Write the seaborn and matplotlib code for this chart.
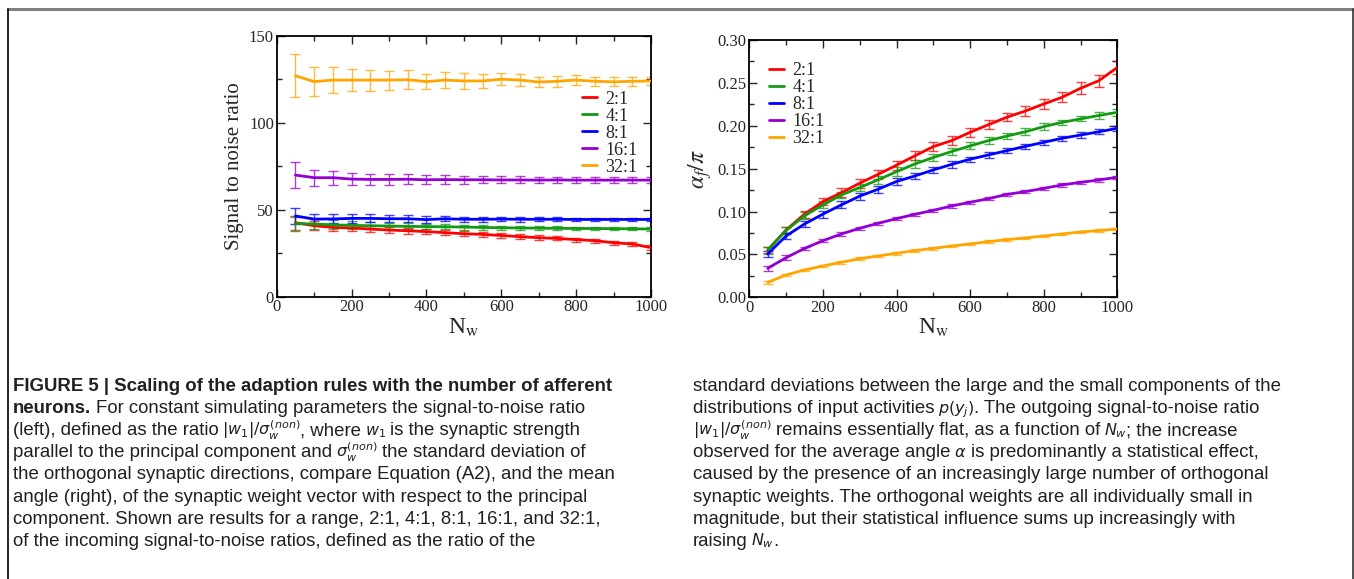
import re
import numpy as np
import pandas as pd
import matplotlib
matplotlib.use('Agg')
import matplotlib.pyplot as plt
from matplotlib.lines import Line2D
from matplotlib.ticker import MultipleLocator, FormatStrFormatter
import seaborn as sns

# values
n_w = [50, 100, 150, 200, 250, 300, 350, 400, 450, 500,
       550, 600, 650, 700, 750, 800, 850, 900, 950, 1000]
ratios = ['2:1', '4:1', '8:1', '16:1', '32:1']

# left panel: signal to noise ratio
snr_2 = [42.5, 40.8, 39.8, 39.5, 38.9, 38.3, 37.9, 37.4, 36.8, 36.2,
         35.8, 35.2, 34.5, 33.9, 33.5, 32.8, 32.2, 31.0, 30.3, 28.2]
snr_4 = [42.0, 41.8, 41.3, 41.0, 40.8, 40.6, 40.4, 40.3, 40.2, 40.0,
         39.8, 39.6, 39.5, 39.4, 39.3, 39.2, 39.2, 39.1, 39.0, 38.9]
snr_8 = [46.4, 44.6, 44.7, 45.0, 45.0, 44.8, 44.8, 44.3, 44.8, 44.5,
         44.5, 44.6, 44.5, 44.5, 44.5, 44.4, 44.4, 44.4, 44.4, 44.4]
snr_16 = [69.9, 68.4, 68.4, 67.6, 67.4, 67.4, 67.5, 67.2, 67.3, 67.2,
          67.2, 67.1, 67.1, 67.0, 67.1, 67.0, 67.0, 67.0, 67.0, 67.0]
snr_32 = [127.0, 123.6, 124.5, 124.5, 124.5, 124.5, 124.7, 123.6, 124.5, 124.0,
          124.0, 125.0, 124.5, 123.4, 123.8, 124.5, 123.8, 123.5, 123.8, 124.0]

snr_err_2 = [4.0, 2.5, 2.2, 2.0, 1.8, 1.7, 1.6, 1.5, 1.5, 1.4,
             1.4, 1.3, 1.3, 1.3, 1.2, 1.2, 1.2, 1.2, 1.2, 1.5]
snr_err_4 = [4.0, 3.0, 2.5, 2.3, 2.0, 1.8, 1.7, 1.6, 1.5, 1.4,
             1.3, 1.2, 1.2, 1.1, 1.1, 1.0, 1.0, 1.0, 0.9, 0.9]
snr_err_8 = [4.8, 3.0, 2.6, 2.5, 2.3, 2.0, 2.0, 1.8, 1.5, 1.5,
             1.4, 1.3, 1.3, 1.2, 1.2, 1.1, 1.1, 1.0, 1.0, 1.0]
snr_err_16 = [7.4, 4.5, 4.0, 3.5, 3.2, 3.0, 2.8, 2.5, 2.5, 2.2,
              2.1, 2.0, 2.0, 1.9, 1.8, 1.7, 1.7, 1.6, 1.6, 1.6]
snr_err_32 = [12.5, 8.4, 7.6, 6.5, 6.0, 5.5, 5.5, 4.3, 4.5, 4.5,
              4.0, 3.5, 3.5, 3.0, 3.0, 3.0, 2.7, 2.5, 2.5, 2.5]

# right panel: mean angle alpha_f / pi
ang_2 = [0.0552, 0.0785, 0.0970, 0.1115, 0.1220, 0.1330, 0.1434, 0.1540, 0.1650, 0.1757,
         0.1827, 0.1924, 0.2013, 0.2100, 0.2172, 0.2254, 0.2332, 0.2437, 0.2526, 0.2680]
ang_4 = [0.0550, 0.0780, 0.0950, 0.1077, 0.1193, 0.1280, 0.1370, 0.1465, 0.1555, 0.1630,
         0.1700, 0.1765, 0.1827, 0.1880, 0.1930, 0.1990, 0.2040, 0.2080, 0.2120, 0.2157]
ang_8 = [0.0505, 0.0715, 0.0855, 0.0970, 0.1077, 0.1180, 0.1260, 0.1350, 0.1415, 0.1485,
         0.1550, 0.1610, 0.1660, 0.1710, 0.1760, 0.1807, 0.1854, 0.1892, 0.1930, 0.1970]
ang_16 = [0.0338, 0.0462, 0.0570, 0.0660, 0.0738, 0.0805, 0.0863, 0.0917, 0.0968, 0.1014,
          0.1065, 0.1108, 0.1150, 0.1200, 0.1232, 0.1270, 0.1310, 0.1340, 0.1368, 0.1400]
ang_32 = [0.0175, 0.0260, 0.0319, 0.0365, 0.0408, 0.0450, 0.0482, 0.0513, 0.0544, 0.0571,
          0.0598, 0.0622, 0.0649, 0.0672, 0.0692, 0.0715, 0.0738, 0.0762, 0.0777, 0.0797]

ang_err_2 = [0.004, 0.004, 0.004, 0.004, 0.005, 0.005, 0.005, 0.005, 0.005, 0.005,
             0.005, 0.005, 0.005, 0.005, 0.006, 0.006, 0.006, 0.007, 0.007, 0.008]
ang_err_4 = [0.004, 0.004, 0.004, 0.004, 0.004, 0.004, 0.005, 0.005, 0.005, 0.004,
             0.004, 0.004, 0.004, 0.004, 0.004, 0.004, 0.003, 0.003, 0.004, 0.004]
ang_err_8 = [0.004, 0.004, 0.004, 0.004, 0.004, 0.004, 0.004, 0.004, 0.003, 0.003,
             0.004, 0.003, 0.003, 0.003, 0.003, 0.003, 0.003, 0.003, 0.003, 0.003]
ang_err_16 = [0.003, 0.003, 0.002, 0.002, 0.002, 0.002, 0.002, 0.002, 0.002, 0.002,
              0.002, 0.002, 0.002, 0.002, 0.002, 0.002, 0.002, 0.002, 0.002, 0.002]
ang_err_32 = [0.002, 0.0015, 0.0015, 0.0015, 0.0015, 0.0015, 0.0015, 0.0015, 0.0015, 0.0015,
              0.0015, 0.0015, 0.0015, 0.0015, 0.0015, 0.0015, 0.0015, 0.0015, 0.0015, 0.0015]

colors = ['#ff0000', '#139a13', '#0000ff', '#9400d3', '#ffa500']

# long tables for seaborn
snr_df = pd.DataFrame({
    'N_w': n_w * 5,
    'ratio': np.repeat(ratios, len(n_w)),
    'value': snr_2 + snr_4 + snr_8 + snr_16 + snr_32,
    'err': snr_err_2 + snr_err_4 + snr_err_8 + snr_err_16 + snr_err_32,
})
ang_df = pd.DataFrame({
    'N_w': n_w * 5,
    'ratio': np.repeat(ratios, len(n_w)),
    'value': ang_2 + ang_4 + ang_8 + ang_16 + ang_32,
    'err': ang_err_2 + ang_err_4 + ang_err_8 + ang_err_16 + ang_err_32,
})

sns.set_style('ticks')
plt.rcParams['font.family'] = ['Liberation Serif', 'DejaVu Serif']

fig = plt.figure(figsize=(13.54, 5.79), dpi=100)
W, H = 1354, 579


def px_axes(l, r, t, b):
    return fig.add_axes([l / W, 1 - b / H, (r - l) / W, (b - t) / H])


ax1 = px_axes(276.7, 651, 35.7, 296.7)
ax2 = px_axes(749.3, 1117.3, 40, 297.3)

palette = dict(zip(ratios, colors))


def draw_panel(ax, df):
    for lab in ratios:
        sub = df[df['ratio'] == lab]
        ax.errorbar(sub['N_w'], sub['value'], yerr=sub['err'], fmt='none',
                    ecolor=palette[lab], elinewidth=1.0, capsize=3.5,
                    capthick=1.0, alpha=0.75, zorder=2)
    sns.lineplot(data=df, x='N_w', y='value', hue='ratio', palette=palette,
                 hue_order=ratios, linewidth=2.0, legend=False, ax=ax,
                 zorder=3)
    ax.set_xlim(0, 1000)
    ax.xaxis.set_major_locator(MultipleLocator(200))
    ax.xaxis.set_minor_locator(MultipleLocator(100))
    ax.tick_params(which='both', direction='in', top=True, right=True,
                   labelsize=12, pad=2, width=1.0)
    ax.tick_params(which='major', length=6)
    ax.tick_params(which='minor', length=3.5)
    for sp in ax.spines.values():
        sp.set_linewidth(1.3)
        sp.set_color('black')
    ax.set_xlabel(r'N$_{\mathrm{w}}$', fontsize=17, math_fontfamily='stix')
    ax.xaxis.set_label_coords(0.5, -0.075)
    handles = [Line2D([], [], color=palette[l], lw=2) for l in ratios]
    return handles


h1 = draw_panel(ax1, snr_df)
ax1.set_ylim(0, 150)
ax1.yaxis.set_major_locator(MultipleLocator(50))
ax1.yaxis.set_minor_locator(MultipleLocator(25))
ax1.set_ylabel('Signal to noise ratio', fontsize=15)
ax1.yaxis.set_label_coords(-0.088, 0.5)
ax1.legend(h1, ratios, loc='upper left', bbox_to_anchor=(0.8157, 0.79),
           frameon=False, fontsize=13, handlelength=0.85, handletextpad=0.45,
           labelspacing=0.0, borderpad=0, borderaxespad=0)

h2 = draw_panel(ax2, ang_df)
ax2.set_ylim(0, 0.30)
ax2.yaxis.set_major_locator(MultipleLocator(0.05))
ax2.yaxis.set_minor_locator(MultipleLocator(0.025))
ax2.yaxis.set_major_formatter(FormatStrFormatter('%.2f'))
ax2.set_ylabel(r'$\alpha_f/\pi$', fontsize=17, math_fontfamily='stix')
ax2.yaxis.set_label_coords(-0.095, 0.5)
ax2.legend(h2, ratios, loc='upper left', bbox_to_anchor=(0.0535, 0.915),
           frameon=False, fontsize=13, handlelength=0.85, handletextpad=0.45,
           labelspacing=0.0, borderpad=0, borderaxespad=0)

# page frame
fig.add_artist(Line2D([8 / W, 1], [1 - 8.5 / H, 1 - 8.5 / H],
                      color='#808080', lw=2.2, transform=fig.transFigure))
fig.add_artist(Line2D([8 / W, 8 / W], [0, 1 - 8.5 / H],
                      color='black', lw=1.2, transform=fig.transFigure))
fig.add_artist(Line2D([1352.5 / W, 1352.5 / W], [0, 1 - 8.5 / H],
                      color='#333333', lw=1.2, transform=fig.transFigure))

# caption
cap_font = ['Liberation Sans', 'DejaVu Sans']
cap_size = 13.4
math_size = 11.5
cap_color = '#231f20'
baselines = [391 + 22.1 * k for k in range(8)]

left_lines = [
    '**FIGURE 5 | Scaling of the adaption rules with the number of afferent',
    '**neurons.** For constant simulating parameters the signal-to-noise ratio',
    r'(left), defined as the ratio $|w_1|/\sigma_w^{(non)}$, where $w_1$ is the synaptic strength',
    r'parallel to the principal component and $\sigma_w^{(non)}$ the standard deviation of',
    'the orthogonal synaptic directions, compare Equation (A2), and the mean',
    'angle (right), of the synaptic weight vector with respect to the principal',
    'component. Shown are results for a range, 2:1, 4:1, 8:1, 16:1, and 32:1,',
    'of the incoming signal-to-noise ratios, defined as the ratio of the',
]
right_lines = [
    'standard deviations between the large and the small components of the',
    r'distributions of input activities $p(y_j)$. The outgoing signal-to-noise ratio',
    r'$|w_1|/\sigma_w^{(non)}$ remains essentially flat, as a function of $N_w$; the increase',
    r'observed for the average angle $\alpha$ is predominantly a statistical effect,',
    'caused by the presence of an increasingly large number of orthogonal',
    'synaptic weights. The orthogonal weights are all individually small in',
    'magnitude, but their statistical influence sums up increasingly with',
    r'raising $N_w$.',
]

renderer = fig.canvas.get_renderer()
space_w = 0.278 * cap_size * 100 / 72


def draw_caption_line(x, y, line):
    # split off bold part (marked with **) and math parts ($...$)
    segs = []
    if line.startswith('**'):
        body = line[2:]
        if '**' in body:
            bold, rest = body.split('**', 1)
        else:
            bold, rest = body, ''
        segs.append((bold, 'b'))
        line = rest
    for piece in re.split(r'(\$[^$]+\$)', line):
        if not piece:
            continue
        segs.append((piece, 'm' if piece.startswith('$') else 'r'))
    for s, kind in segs:
        if kind != 'm' and s.startswith(' '):
            x += space_w
        txt = s.strip() if kind != 'm' else s
        if txt:
            t = fig.text(x / W, 1 - y / H, txt,
                         fontsize=math_size if kind == 'm' else cap_size,
                         family=cap_font, color=cap_color,
                         weight='bold' if kind == 'b' else 'normal',
                         va='baseline', ha='left',
                         math_fontfamily='dejavusans')
            x = t.get_window_extent(renderer).x1
            if kind == 'm':
                x -= 1
        if kind != 'm' and s.endswith(' '):
            x += space_w - (1.5 if kind == 'r' else 0)


for k, s in enumerate(left_lines):
    draw_caption_line(13, baselines[k], s)
for k, s in enumerate(right_lines):
    draw_caption_line(693, baselines[k], s)

fig.savefig('out.png', dpi=100)
